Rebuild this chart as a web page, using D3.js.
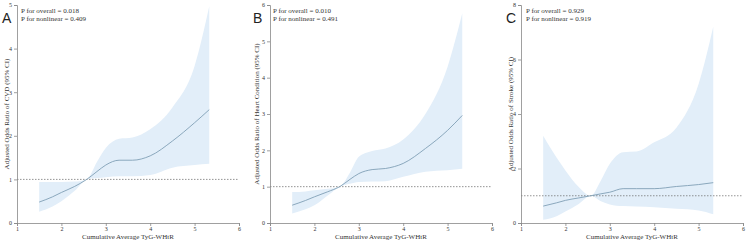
<!DOCTYPE html>
<html>
<head>
<meta charset="utf-8">
<script src="https://d3js.org/d3.v7.min.js"></script>
<style>
  body { margin: 0; background: #fff; }
  svg { display: block; }
</style>
</head>
<body>
<svg id="chart" width="748" height="243"></svg>
<script>
// x positions shared by all three panels (Cumulative Average TyG-WHtR)
var xs = [1.5, 1.8, 2.0, 2.3, 2.57, 2.8, 3.0, 3.3, 3.6, 4.0, 4.5, 5.0, 5.33];

// Panel A - CVD
var cvdOR    = [0.48, 0.60, 0.70, 0.84, 1.00, 1.18, 1.33, 1.44, 1.44, 1.54, 1.88, 2.30, 2.60];
var cvdLower = [0.26, 0.38, 0.50, 0.74, 1.00, 1.03, 1.05, 1.07, 1.07, 1.10, 1.27, 1.33, 1.36];
var cvdUpper = [0.94, 0.94, 0.94, 0.95, 1.00, 1.40, 1.72, 1.93, 1.96, 2.15, 2.65, 3.60, 4.97];

// Panel B - Heart condition
var heartOR    = [0.49, 0.62, 0.72, 0.86, 1.00, 1.20, 1.36, 1.47, 1.50, 1.64, 2.05, 2.55, 2.96];
var heartLower = [0.26, 0.38, 0.49, 0.76, 1.00, 1.08, 1.13, 1.14, 1.15, 1.27, 1.41, 1.45, 1.49];
var heartUpper = [0.85, 0.87, 0.90, 0.94, 1.00, 1.38, 1.82, 1.98, 2.05, 2.30, 3.00, 4.30, 5.77];

// Panel C - Stroke
var strokeOR    = [0.62, 0.74, 0.83, 0.92, 1.00, 1.07, 1.13, 1.26, 1.26, 1.26, 1.34, 1.41, 1.48];
var strokeLower = [0.12, 0.25, 0.42, 0.70, 1.00, 0.80, 0.68, 0.62, 0.61, 0.58, 0.52, 0.46, 0.32];
var strokeUpper = [3.20, 2.40, 1.93, 1.32, 1.00, 1.56, 2.17, 2.60, 2.62, 2.96, 3.50, 5.10, 7.20];

var xTicks = [1, 2, 3, 4, 5, 6];

var panels = [
  { letter: "A", left: 17,  yMax: 5, yTicks: [0,1,2,3,4,5], or: cvdOR, lo: cvdLower, hi: cvdUpper,
    yLabel: "Adjusted Odds Ratio of CVD (95% CI)", pOverall: "0.018", pNonlinear: "0.409",
    letterX: 2, pX: 21, yLabelX: 7 },
  { letter: "B", left: 270, yMax: 6, yTicks: [0,1,2,3,4,5,6], or: heartOR, lo: heartLower, hi: heartUpper,
    yLabel: "Adjusted Odds Ratio of Heart Condition (95% CI)", pOverall: "0.010", pNonlinear: "0.491",
    letterX: 253, pX: 273, yLabelX: 257 },
  { letter: "C", left: 521, yMax: 8, yTicks: [0,2,4,6,8], or: strokeOR, lo: strokeLower, hi: strokeUpper,
    yLabel: "Adjusted Odds Ratio of Stroke (95% CI)", pOverall: "0.929", pNonlinear: "0.919",
    letterX: 506, pX: 526, yLabelX: 511 }
];

var svg = d3.select("#chart");
var plotTop = 5, plotBottom = 223, plotW = 222;
var serif = "'Liberation Serif', 'DejaVu Serif', serif";

panels.forEach(function(p) {
  var x = d3.scaleLinear().domain([1, 6]).range([p.left, p.left + plotW]);
  var y = d3.scaleLinear().domain([0, p.yMax]).range([plotBottom, plotTop]);
  var g = svg.append("g");

  // confidence band
  var area = d3.area()
      .x(function(d, i) { return x(xs[i]); })
      .y0(function(d, i) { return y(p.lo[i]); })
      .y1(function(d, i) { return y(p.hi[i]); })
      .curve(d3.curveMonotoneX);
  g.append("path").datum(xs).attr("d", area).attr("fill", "#e2eef9");

  // reference line at OR = 1
  g.append("line")
      .attr("x1", x(1)).attr("x2", x(6))
      .attr("y1", y(1)).attr("y2", y(1))
      .attr("stroke", "#666").attr("stroke-width", 0.7)
      .attr("stroke-dasharray", "1.5,1.5");

  // OR curve
  var line = d3.line()
      .x(function(d, i) { return x(xs[i]); })
      .y(function(d) { return y(d); })
      .curve(d3.curveMonotoneX);
  g.append("path").datum(p.or).attr("d", line)
      .attr("fill", "none").attr("stroke", "#809fb6").attr("stroke-width", 0.9);

  // axes
  var xAxis = g.append("g").attr("transform", "translate(0," + plotBottom + ")")
      .call(d3.axisBottom(x).tickValues(xTicks).tickFormat(d3.format("d")).tickSize(3).tickPadding(1));
  var yAxis = g.append("g").attr("transform", "translate(" + p.left + ",0)")
      .call(d3.axisLeft(y).tickValues(p.yTicks).tickFormat(d3.format("d")).tickSize(3).tickPadding(2));
  [xAxis, yAxis].forEach(function(a) {
    a.select(".domain").attr("stroke", "#888").attr("stroke-width", 0.8);
    a.selectAll(".tick line").attr("stroke", "#888").attr("stroke-width", 0.8);
    a.selectAll("text").attr("font-family", serif).attr("font-size", 6).attr("fill", "#333");
  });

  // titles
  g.append("text")
      .attr("x", x(3.5)).attr("y", 238.5)
      .attr("text-anchor", "middle")
      .attr("font-family", serif).attr("font-size", 7).attr("fill", "#333")
      .text("Cumulative Average TyG-WHtR");

  g.append("text")
      .attr("transform", "translate(" + p.yLabelX + "," + ((plotTop + plotBottom) / 2) + ") rotate(-90)")
      .attr("text-anchor", "middle").attr("dy", "0.35em")
      .attr("font-family", serif).attr("font-size", 7).attr("fill", "#333")
      .text(p.yLabel);

  g.append("text")
      .attr("x", p.letterX).attr("y", 23)
      .attr("font-family", "'Liberation Sans', Arial, sans-serif").attr("font-size", 14).attr("fill", "#222")
      .text(p.letter);

  g.append("text")
      .attr("x", p.pX).attr("y", 13)
      .attr("font-family", serif).attr("font-size", 7).attr("fill", "#333")
      .text("P for overall = " + p.pOverall);
  g.append("text")
      .attr("x", p.pX).attr("y", 21)
      .attr("font-family", serif).attr("font-size", 7).attr("fill", "#333")
      .text("P for nonlinear = " + p.pNonlinear);
});
</script>
</body>
</html>
